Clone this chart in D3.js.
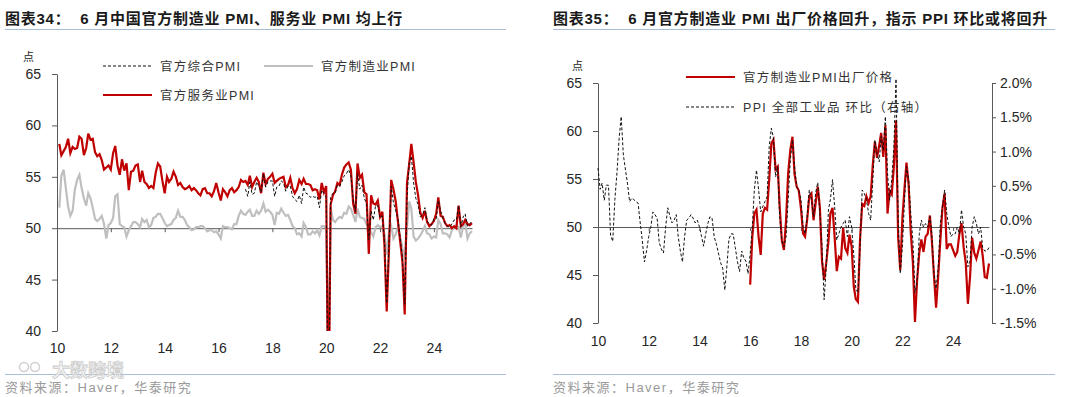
<!DOCTYPE html>
<html>
<head>
<meta charset="utf-8">
<script src="https://cdn.jsdelivr.net/npm/d3@7"></script>
<style>
  body { margin: 0; background: #fff; }
  svg { display: block; font-family: "Liberation Sans", "Noto Sans CJK SC", sans-serif; }
  text { white-space: pre; }
</style>
</head>
<body>
<script>
// ---- left panel: PMI (monthly, Feb 2010 - Jun 2025) ----
const PMI_START = [2010, 2];
const servicesPmi = [
  58.2, 57.1, 57.5, 57.9, 58.7, 57.3, 57.9, 57.7, 57.8, 58.9, 58.7,
  57.1, 57.8, 59.2, 58.6, 58.7, 57.4, 57.0, 57.2, 56.6, 55.7, 55.9, 56.1,
  55.7, 57.3, 58.0, 56.1, 55.2, 56.7, 55.6, 56.3, 53.7, 55.5, 55.6, 56.1,
  56.2, 54.5, 55.6, 54.5, 54.3, 53.9, 54.1, 53.9, 55.4, 56.3, 56.0, 54.6,
  53.4, 55.0, 54.5, 54.8, 55.5, 55.0, 54.2, 54.4, 54.0, 53.8, 53.9, 54.1,
  53.7, 53.9, 53.7, 53.4, 53.2, 53.8, 53.9, 53.4, 53.4, 53.1, 53.6, 54.4,
  53.5, 52.7, 53.8, 53.5, 53.1, 53.7, 53.9, 53.5, 53.7, 54.0, 54.7, 54.5,
  54.6, 54.2, 55.1, 54.0, 54.5, 54.9, 54.5, 53.4, 55.4, 54.3, 54.8, 55.0,
  55.3, 54.4, 54.6, 54.8, 54.9, 55.0, 54.0, 54.2, 54.9, 53.9, 53.4, 53.8,
  54.7, 54.3, 54.8, 54.3, 54.3, 54.2, 53.7, 53.8, 53.7, 52.8, 54.4, 53.5,
  54.1, 29.6, 52.3, 53.2, 53.6, 54.4, 54.2, 55.2, 55.9, 56.2, 56.4, 55.7,
  52.4, 51.4, 56.3, 54.9, 55.2, 53.5, 53.3, 47.5, 53.2, 52.4, 52.3, 52.7,
  51.1, 51.6, 48.4, 41.9, 47.8, 54.7, 53.8, 52.6, 50.6, 48.7, 46.7, 41.6,
  54.4, 56.3, 58.2, 56.4, 54.5, 53.2, 51.5, 51.0, 51.7, 50.6, 50.2, 50.4,
  50.7, 51.4, 53.0, 51.2, 51.1, 50.5, 50.2, 50.3, 50.0, 50.2, 50.0, 52.2,
  50.2, 50.4, 50.8, 50.4, 50.3, 50.5
];
const manufacturingPmi = [
  52.0, 55.1, 55.7, 53.9, 52.1, 51.2, 51.7, 53.8, 54.7, 55.2, 53.9,
  52.9, 52.2, 53.4, 52.9, 52.0, 50.9, 50.7, 50.9, 51.2, 50.4, 49.0, 50.3,
  50.5, 51.0, 53.1, 53.3, 50.4, 50.2, 50.1, 49.2, 49.8, 50.2, 50.6, 50.6,
  50.4, 50.1, 50.9, 50.6, 50.8, 50.1, 50.3, 51.0, 51.1, 51.4, 51.4, 51.0,
  50.5, 50.2, 50.3, 50.4, 50.8, 51.0, 51.7, 51.1, 51.1, 50.8, 50.3, 50.1,
  49.8, 49.9, 50.1, 50.1, 50.2, 50.2, 50.0, 49.7, 49.8, 49.8, 49.6, 49.7,
  49.4, 49.0, 50.2, 50.1, 50.1, 50.0, 49.9, 50.4, 50.4, 51.2, 51.7, 51.4,
  51.3, 51.6, 51.8, 51.2, 51.2, 51.7, 51.4, 51.7, 52.4, 51.6, 51.8, 51.6,
  51.3, 50.3, 51.5, 51.4, 51.9, 51.5, 51.2, 51.3, 50.8, 50.2, 50.0, 49.4,
  49.5, 49.2, 50.5, 50.1, 49.4, 49.4, 49.7, 49.5, 49.8, 49.3, 50.2, 50.2,
  50.0, 35.7, 52.0, 50.8, 50.6, 50.9, 51.1, 51.0, 51.5, 51.4, 52.1, 51.9,
  51.3, 50.6, 51.9, 51.1, 51.0, 50.9, 50.4, 50.1, 49.6, 49.2, 50.1, 50.3,
  50.1, 50.2, 49.5, 47.4, 49.6, 50.2, 49.0, 49.4, 50.1, 49.2, 48.0, 47.0,
  50.1, 52.6, 51.9, 49.2, 48.8, 49.0, 49.3, 49.7, 50.2, 49.5, 49.4, 49.0,
  49.2, 49.1, 50.8, 50.4, 49.5, 49.5, 49.4, 49.1, 49.8, 50.1, 50.3, 50.1,
  49.1, 50.2, 50.5, 49.0, 49.5, 49.7
];
const COMPOSITE_START = [2017, 1];
const compositePmi = [
  53.8, 53.1, 54.5, 53.3, 53.4, 54.5, 54.1, 53.5, 55.3, 54.0, 54.5, 54.6,
  54.6, 53.1, 54.0, 54.1, 54.6, 54.4, 53.6, 54.1, 54.1, 53.1, 52.8, 52.6,
  53.2, 52.4, 54.0, 53.4, 53.3, 53.0, 53.1, 53.0, 53.1, 52.0, 53.7, 53.4,
  53.0, 28.9, 53.0, 53.4, 53.4, 54.2, 54.1, 54.5, 55.1, 55.3, 55.7, 55.1,
  52.8, 51.6, 55.3, 53.8, 54.2, 52.9, 52.4, 48.9, 51.7, 50.8, 52.2, 52.2,
  51.0, 51.2, 48.8, 42.7, 48.4, 54.1, 52.5, 51.7, 50.9, 49.0, 47.1, 42.6,
  52.9, 56.4, 57.0, 54.4, 52.9, 52.3, 51.1, 51.3, 52.0, 50.7, 50.4, 50.3,
  50.9, 50.9, 52.7, 51.7, 51.0, 50.5, 50.2, 50.1, 50.4, 50.8, 50.8, 52.2,
  50.1, 51.1, 51.4, 50.2, 50.4, 50.7
];

// ---- right panel: output price index and PPI m/m ----
const PPI_START = [2010, 1];
const ppiMom = [
  0.76, 0.45, 0.54, 0.29, 0.51, 0.51, -0.22, -0.31, 0.3, 0.69, 1.19, 1.51,
  0.95, 0.73, 0.54, 0.27, 0.32, 0.3, 0.27, 0.25, -0.04, -0.3, -0.61, -0.45,
  -0.24, -0.1, 0.12, 0.08, 0.03, -0.33, -0.42, -0.48, -0.1, 0.18, 0.06, -0.04,
  0.0, 0.08, -0.24, -0.45, -0.61, -0.24, 0.0, 0.03, 0.08, 0.03, -0.04, 0.0,
  -0.1, -0.24, -0.38, -0.2, -0.05, 0.05, 0.03, -0.24, -0.35, -0.48, -0.62, -0.7,
  -1.02, -0.66, -0.28, -0.2, -0.2, -0.4, -0.6, -0.75, -0.45, -0.55, -0.6, -0.78,
  -0.5, -0.1, 0.44, 0.73, 0.45, 0.12, 0.2, 0.27, 0.34, 1.07, 1.34, 1.2,
  0.63, 0.78, 0.05, -0.3, -0.39, -0.24, 0.3, 0.88, 1.17, 0.78, 0.49, 0.44,
  0.3, -0.1, -0.2, 0.05, 0.44, 0.3, 0.05, 0.4, 0.55, 0.1, -0.39, -1.16,
  -0.68, 0.15, 0.3, 0.59, 0.2, -0.29, -0.2, -0.1, -0.05, 0.0, -0.24, 0.05,
  -0.1, -0.5, -1.0, -1.06, -0.4, 0.44, 0.39, 0.3, 0.1, 0.0, 0.59, 1.17,
  0.97, 0.85, 1.22, 1.02, 1.51, 0.68, 0.29, 0.59, 1.07, 2.06, 0.0, -0.78,
  -0.39, 0.3, 0.78, 0.6, 0.1, -0.3, -1.06, -0.9, -0.2, 0.0, -0.1, -0.05,
  -0.1, 0.05, -0.2, -0.78, -1.0, -0.68, -0.05, 0.2, 0.44, 0.1, -0.1, -0.24,
  -0.2, -0.2, -0.1, -0.2, 0.15, -0.1, -0.2, -0.68, -0.6, -0.1, 0.05, -0.05,
  -0.2, -0.1, -0.4, -0.45, -0.45, -0.4
];
const OUTPUT_START = [2016, 1];
const outputPrice = [
  44.0, 49.0, 51.4, 51.8, 49.0, 47.1, 51.4, 52.0, 51.8, 54.9, 58.7, 59.1,
  56.0, 56.3, 52.1, 48.6, 47.6, 50.7, 55.6, 58.0, 59.4, 55.5, 54.2, 53.8,
  52.0, 49.3, 49.0, 50.8, 53.2, 53.5, 50.7, 52.5, 54.2, 52.0, 46.4, 44.5,
  46.3, 48.5, 51.4, 52.0, 49.0, 45.4, 46.9, 46.7, 49.9, 47.8, 47.3, 49.2,
  48.0, 43.8, 42.5, 42.2, 48.7, 52.4, 52.2, 53.2, 52.5, 53.2, 56.5, 58.9,
  57.2, 58.5, 59.8, 57.3, 60.6, 51.4, 53.8, 53.4, 56.4, 61.1, 48.9, 45.5,
  50.9, 54.1, 56.7, 54.4, 49.5, 46.3, 40.1, 44.5, 47.3, 48.7, 47.4, 49.0,
  49.3, 51.2, 48.6, 44.9, 41.6, 44.9, 48.6, 52.0, 53.5, 47.7, 48.2, 48.2,
  47.6, 47.0, 47.4, 49.3, 50.4, 47.9, 46.3, 42.0, 44.8, 48.9, 47.3, 46.7,
  47.6, 48.5, 47.1, 44.8, 44.7, 46.2
];

// ---- axis ticks ----
const yearTicks = [2010, 2012, 2014, 2016, 2018, 2020, 2022, 2024];
const pmiTicks = [40, 45, 50, 55, 60, 65];
const pctTicks = [-1.5, -1.0, -0.5, 0.0, 0.5, 1.0, 1.5, 2.0];

const RED = "#c00000";
const GREY = "#bfbfbf";
const AXIS = "#595959";
const INK = "#262626";

const monthly = (start, values) =>
  values.map((v, i) => ({ date: new Date(start[0], start[1] - 1 + i, 1), value: v }));

const svg = d3.select("body").append("svg")
  .attr("width", 1080)
  .attr("height", 397);

function frame(x0, x1, title) {
  svg.append("text")
    .attr("x", x0)
    .attr("y", 24)
    .attr("font-size", 15)
    .attr("font-weight", "bold")
    .attr("letter-spacing", 0.75)
    .attr("fill", "#1a1a1a")
    .text(title);
  svg.append("line")
    .attr("x1", x0).attr("x2", x1)
    .attr("y1", 29.5).attr("y2", 29.5)
    .attr("stroke", "#a9bfd8").attr("stroke-width", 1.2);
  svg.append("line")
    .attr("x1", x0).attr("x2", x1)
    .attr("y1", 374.5).attr("y2", 374.5)
    .attr("stroke", "#a9bfd8").attr("stroke-width", 1.2);
  svg.append("text")
    .attr("x", x0)
    .attr("y", 392)
    .attr("font-size", 13)
    .attr("letter-spacing", 1.5)
    .attr("fill", "#9a9a9a")
    .text("资料来源：Haver，华泰研究");
}

function styleAxis(g) {
  g.attr("font-size", 14).attr("font-family", null);
  g.select(".domain").attr("stroke", AXIS);
  g.selectAll(".tick line").attr("stroke", AXIS);
  g.selectAll(".tick text").attr("fill", INK);
}

function xAxes(x, y, yBottom, pad) {
  const dates = yearTicks.map(yr => new Date(yr, 0, 1));
  svg.append("g")
    .attr("transform", `translate(0,${y(50)})`)
    .call(d3.axisBottom(x).tickValues(dates).tickSize(4).tickSizeOuter(0).tickFormat(""))
    .call(styleAxis);
  svg.append("g")
    .attr("transform", `translate(0,${yBottom})`)
    .call(d3.axisBottom(x).tickValues(dates).tickSize(0).tickPadding(pad).tickFormat(d3.timeFormat("%y")))
    .call(styleAxis)
    .call(g => g.select(".domain").remove());
}

function legendItem(x, y, color, width, dash, label) {
  svg.append("line")
    .attr("x1", x).attr("x2", x + 49)
    .attr("y1", y).attr("y2", y)
    .attr("stroke", color).attr("stroke-width", width)
    .attr("stroke-dasharray", dash);
  svg.append("text")
    .attr("x", x + 57)
    .attr("y", y + 4.5)
    .attr("font-size", 12.5)
    .attr("letter-spacing", 1.3)
    .attr("fill", "#333")
    .text(label);
}

// ================= left chart =================
frame(5, 506, "图表34：  6 月中国官方制造业 PMI、服务业 PMI 均上行");

const lx = d3.scaleTime()
  .domain([new Date(2010, 0, 1), new Date(2025, 5, 1)])
  .range([57, 472]);
const ly = d3.scaleLinear().domain([40, 65]).range([331, 74]);

svg.append("defs").append("clipPath").attr("id", "clipLeft")
  .append("rect").attr("x", 50).attr("y", 60).attr("width", 440).attr("height", 271);

xAxes(lx, ly, ly(40), 12.5);

svg.append("g")
  .attr("transform", "translate(57,0)")
  .call(d3.axisLeft(ly).tickValues(pmiTicks).tickSize(5).tickSizeOuter(0).tickPadding(11))
  .call(styleAxis);

svg.append("text").attr("x", 23).attr("y", 61).attr("font-size", 11).attr("fill", INK).text("点");

const leftLine = d3.line().x(d => lx(d.date)).y(d => ly(d.value));
const leftPlot = svg.append("g").attr("clip-path", "url(#clipLeft)");

leftPlot.append("path")
  .datum(monthly(PMI_START, manufacturingPmi))
  .attr("d", leftLine)
  .attr("fill", "none").attr("stroke", GREY).attr("stroke-width", 2.2);
leftPlot.append("path")
  .datum(monthly(PMI_START, servicesPmi))
  .attr("d", leftLine)
  .attr("fill", "none").attr("stroke", RED).attr("stroke-width", 2.2);
leftPlot.append("path")
  .datum(monthly(COMPOSITE_START, compositePmi))
  .attr("d", leftLine)
  .attr("fill", "none").attr("stroke", "#111").attr("stroke-width", 1)
  .attr("stroke-dasharray", "3,2");

legendItem(103, 66, "#111", 1, "3,2", "官方综合PMI");
legendItem(264, 66, GREY, 2.2, null, "官方制造业PMI");
legendItem(103, 95, RED, 2.2, null, "官方服务业PMI");

// faint watermark just above the left source line
const wm = svg.append("g").attr("opacity", 0.85);
wm.append("circle").attr("cx", 24).attr("cy", 367).attr("r", 4.5).attr("fill", "none").attr("stroke", "#c8c8c8").attr("stroke-width", 1.5);
wm.append("circle").attr("cx", 35).attr("cy", 367).attr("r", 4.5).attr("fill", "none").attr("stroke", "#c8c8c8").attr("stroke-width", 1.5);
wm.append("text").attr("x", 52).attr("y", 377).attr("font-size", 18).attr("font-weight", "bold")
  .attr("fill", "#f4f4f4").attr("stroke", "#c4c4c4").attr("stroke-width", 0.8).text("大数跨境");

// ================= right chart =================
frame(553, 1055, "图表35：  6 月官方制造业 PMI 出厂价格回升，指示 PPI 环比或将回升");

const rx = d3.scaleTime()
  .domain([new Date(2010, 0, 1), new Date(2025, 5, 1)])
  .range([598, 989]);
const ryl = d3.scaleLinear().domain([40, 65]).range([323, 83]);
const ryr = d3.scaleLinear().domain([-1.5, 2.0]).range([323, 83]);

xAxes(rx, ryl, ryl(40), 13.5);

svg.append("g")
  .attr("transform", "translate(598,0)")
  .call(d3.axisLeft(ryl).tickValues(pmiTicks).tickSize(5).tickSizeOuter(0).tickPadding(11))
  .call(styleAxis);

svg.append("g")
  .attr("transform", "translate(992,0)")
  .call(d3.axisRight(ryr).tickValues(pctTicks).tickSize(4).tickSizeOuter(0).tickPadding(4)
    .tickFormat(d => d.toFixed(1) + "%"))
  .call(styleAxis);

svg.append("text").attr("x", 572).attr("y", 70).attr("font-size", 11).attr("fill", INK).text("点");

svg.append("path")
  .datum(monthly(OUTPUT_START, outputPrice))
  .attr("d", d3.line().x(d => rx(d.date)).y(d => ryl(d.value)))
  .attr("fill", "none").attr("stroke", RED).attr("stroke-width", 2.2);
svg.append("path")
  .datum(monthly(PPI_START, ppiMom))
  .attr("d", d3.line().x(d => rx(d.date)).y(d => ryr(d.value)))
  .attr("fill", "none").attr("stroke", "#111").attr("stroke-width", 1)
  .attr("stroke-dasharray", "3,2");

legendItem(686, 77, RED, 2.2, null, "官方制造业PMI出厂价格");
legendItem(686, 107, "#111", 1, "3,2", "PPI 全部工业品 环比（右轴）");
</script>
</body>
</html>
